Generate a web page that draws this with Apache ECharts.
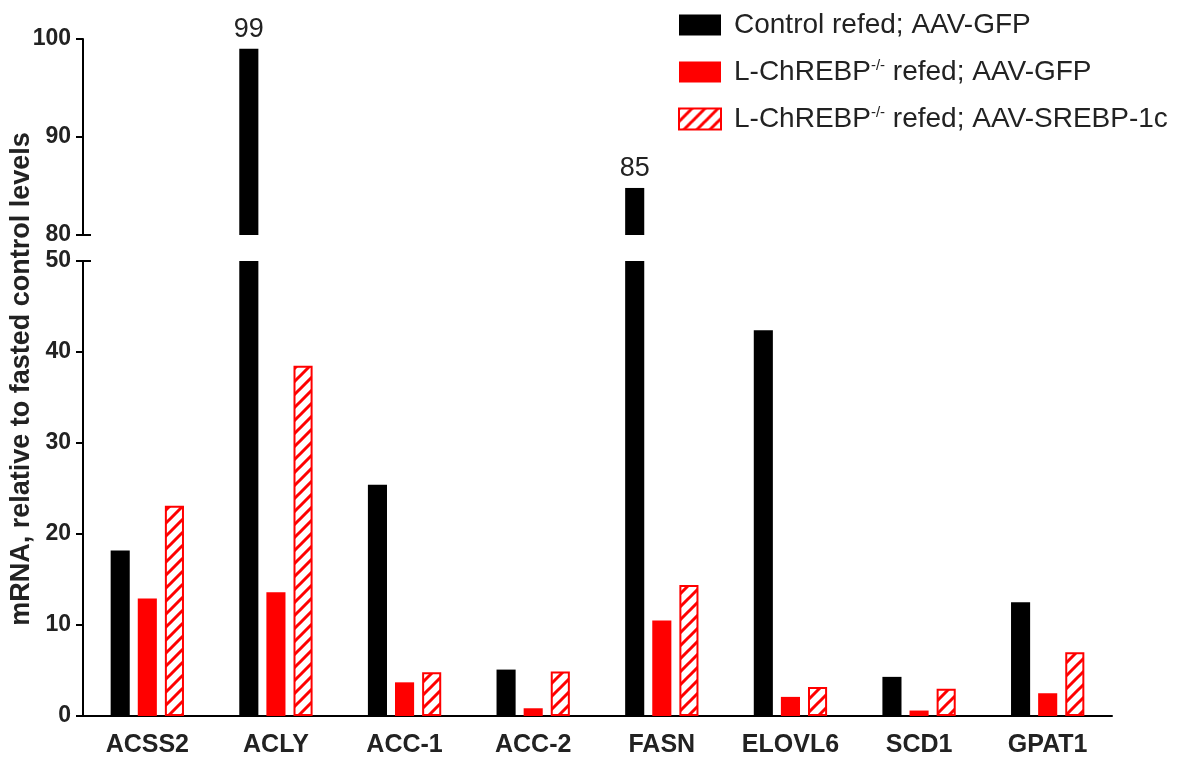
<!DOCTYPE html>
<html>
  <head>
    <meta charset="utf-8" />
    <title>mRNA lipogenic genes</title>
    <script src="https://cdn.jsdelivr.net/npm/echarts@6/dist/echarts.min.js"></script>
    <style>
      * {
        margin: 0;
        padding: 0;
        box-sizing: border-box;
      }
      body {
        background: #fff;
      }
    </style>
  </head>
  <body>
    <div id="main" style="width: 1188px; height: 760px"></div>
    <script type="text/javascript">
      const categories = ["ACSS2", "ACLY", "ACC-1", "ACC-2", "FASN", "ELOVL6", "SCD1", "GPAT1"];
      const seriesNames = [
        "Control refed; AAV-GFP",
        "L-ChREBP-/- refed; AAV-GFP",
        "L-ChREBP-/- refed; AAV-SREBP-1c",
      ];
      const controlGfp = [18.2, 99, 25.4, 5.1, 84.8, 42.4, 4.3, 12.5];
      const koGfp = [12.9, 13.6, 3.7, 0.85, 10.5, 2.1, 0.6, 2.5];
      const koSrebp = [23.1, 38.5, 4.8, 4.9, 14.4, 3.2, 3.0, 7.0];
      const upperRange = [80, 100]; // broken axis, top part
      const lowerRange = [0, 50]; // bottom part
      const tickStep = 10;

      const gridLeft = 83;
      const font = "Liberation Sans, Arial, sans-serif";

      // hatch pattern for the SREBP-1c bars
      function makeHatch() {
        const s = 13;
        const c = document.createElement("canvas");
        c.width = s;
        c.height = s;
        const ctx = c.getContext("2d");
        ctx.fillStyle = "#fff";
        ctx.fillRect(0, 0, s, s);
        ctx.strokeStyle = "#ff0000";
        ctx.lineWidth = 3;
        ctx.beginPath();
        ctx.moveTo(-s, s);
        ctx.lineTo(s, -s);
        ctx.moveTo(0, s);
        ctx.lineTo(s, 0);
        ctx.moveTo(0, 2 * s);
        ctx.lineTo(2 * s, 0);
        ctx.stroke();
        return c;
      }
      const hatch = { image: makeHatch(), repeat: "repeat" };

      const styles = [
        { color: "#000000" },
        { color: "#ff0000" },
        { color: hatch, borderColor: "#ff0000", borderWidth: 2 },
      ];
      const values = [controlGfp, koGfp, koSrebp];

      var myChart = echarts.init(document.getElementById("main"));

      const axisLineStyle = { color: "#000", width: 2 };
      const yLabel = { color: "#222", fontSize: 23, fontWeight: "bold", fontFamily: font, margin: 12 };

      function barSeries(gridIdx) {
        return values.map((data, i) => ({
          name: seriesNames[i],
          type: "bar",
          xAxisIndex: gridIdx,
          yAxisIndex: gridIdx,
          data: data,
          barGap: "42%",
          barCategoryGap: "43%",
          clip: true,
          itemStyle: styles[i],
          label:
            gridIdx === 0 && i === 0
              ? {
                  show: true,
                  position: "top",
                  distance: 6,
                  color: "#222",
                  fontSize: 27,
                  fontFamily: font,
                  formatter: (p) => (p.value >= upperRange[0] ? Math.round(p.value) : ""),
                }
              : { show: false },
        }));
      }

      var option = {
        animation: false,
        backgroundColor: "#fff",
        legend: {
          left: 673,
          top: 6,
          orient: "vertical",
          icon: "rect",
          itemWidth: 42,
          itemHeight: 21,
          itemGap: 19,
          data: seriesNames.map((n, i) => ({ name: n, itemStyle: styles[i] })),
          formatter: function (name) {
            if (name.indexOf("-/-") < 0) return "{n|" + name + "}";
            const parts = name.split("-/-");
            return "{n|" + parts[0] + "}{s|-/-}{n|" + parts[1] + "}";
          },
          textStyle: {
            padding: [0, 0, 0, 8],
            rich: {
              n: { fontSize: 28, fontFamily: font, color: "#222", lineHeight: 28 },
              s: { fontSize: 15, fontFamily: font, color: "#222", lineHeight: 15, verticalAlign: "top" },
            },
          },
        },
        grid: [
          { left: gridLeft, right: 76, top: 39, height: 196 },
          { left: gridLeft, right: 76, top: 261, bottom: 44 },
        ],
        xAxis: [
          {
            type: "category",
            gridIndex: 0,
            data: categories,
            axisLine: { show: false },
            axisTick: { show: false },
            axisLabel: { show: false },
          },
          {
            type: "category",
            gridIndex: 1,
            data: categories,
            axisLine: { lineStyle: axisLineStyle },
            axisTick: { show: false },
            axisLabel: { color: "#222", fontSize: 25, fontWeight: "bold", fontFamily: font, margin: 17 },
          },
        ],
        yAxis: [
          {
            type: "value",
            gridIndex: 0,
            min: upperRange[0],
            max: upperRange[1],
            interval: tickStep,
            axisLine: { show: true, lineStyle: axisLineStyle },
            axisTick: { show: true, length: 7, lineStyle: axisLineStyle },
            axisLabel: yLabel,
            splitLine: { show: false },
          },
          {
            type: "value",
            gridIndex: 1,
            min: lowerRange[0],
            max: lowerRange[1],
            interval: tickStep,
            axisLine: { show: true, lineStyle: axisLineStyle },
            axisTick: { show: true, length: 7, lineStyle: axisLineStyle },
            axisLabel: yLabel,
            splitLine: { show: false },
          },
        ],
        series: barSeries(0).concat(barSeries(1)),
      };

      myChart.setOption(option);

      // break marks (ticks crossing the axis at 80 and 50) and the rotated axis title
      const yBreakTop = myChart.convertToPixel({ yAxisIndex: 0 }, upperRange[0]);
      const yBreakBottom = myChart.convertToPixel({ yAxisIndex: 1 }, lowerRange[1]);
      myChart.setOption({
        graphic: [
          {
            type: "line",
            shape: { x1: gridLeft - 7, y1: yBreakTop, x2: gridLeft + 8, y2: yBreakTop },
            style: { stroke: "#000", lineWidth: 2 },
          },
          {
            type: "line",
            shape: { x1: gridLeft - 7, y1: yBreakBottom, x2: gridLeft + 8, y2: yBreakBottom },
            style: { stroke: "#000", lineWidth: 2 },
          },
          {
            type: "text",
            x: 22,
            y: 379,
            rotation: Math.PI / 2,
            style: {
              text: "mRNA, relative to fasted control levels",
              fill: "#222",
              font: "bold 27px " + font,
              textAlign: "center",
              textVerticalAlign: "middle",
            },
          },
        ],
      });

      window.addEventListener("resize", function () {
        myChart.resize();
      });
    </script>
  </body>
</html>
